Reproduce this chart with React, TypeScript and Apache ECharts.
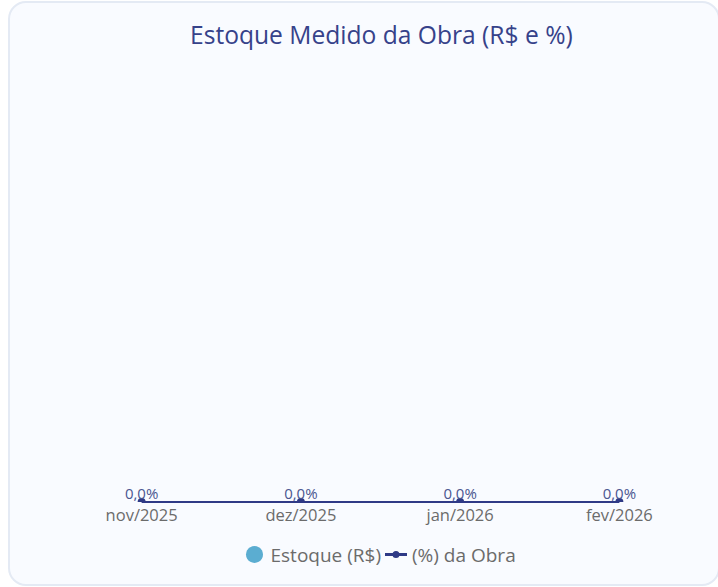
import React, { useEffect, useRef } from "react";
import * as echarts from "echarts";

const categories = ["nov/2025", "dez/2025", "jan/2026", "fev/2026"];
const estoqueValues = [0, 0, 0, 0];
const percentValues = [0, 0, 0, 0];

const FONT = "'Open Sans', 'Noto Sans', sans-serif";
const LINE_ICON =
  "path://M0,2.5 L22,2.5 L22,5.5 L0,5.5 Z M7.5,4 A3.5,3.5 0 1,1 14.5,4 A3.5,3.5 0 1,1 7.5,4 Z";
const DOME = "path://M0,4 A4,4 0 0,1 8,4 Z";

export default function App() {
  const ref = useRef<HTMLDivElement>(null);
  useEffect(() => {
    if (!ref.current) return;
    const chart = echarts.init(ref.current, undefined, { renderer: "svg" });
    chart.setOption({
      animation: false,
      textStyle: { fontFamily: FONT },
      title: {
        text: "Estoque Medido da Obra (R$ e %)",
        left: 177,
        top: 16,
        textStyle: { fontSize: 24.6, fontWeight: "normal", color: "#36428a", fontFamily: FONT },
      },
      legend: {
        left: 233,
        top: 539,
        itemGap: 4,
        itemWidth: 22,
        itemHeight: 17,
        textStyle: { fontSize: 19, color: "#6b6b6b", fontFamily: FONT },
        data: [
          { name: "Estoque (R$)", icon: "circle" },
          { name: "(%) da Obra", icon: LINE_ICON },
        ],
      },
      grid: { left: 54, width: 637, top: 70, bottom: 84 },
      xAxis: {
        type: "category",
        data: categories,
        boundaryGap: true,
        axisLine: { show: false },
        axisTick: { show: false },
        axisLabel: { color: "#6b6b6b", fontSize: 16.5, margin: 4, fontFamily: FONT },
      },
      yAxis: [
        { type: "value", show: false, min: 0, max: 1 },
        { type: "value", show: false, min: 0, max: 1 },
      ],
      series: [
        {
          name: "Estoque (R$)",
          type: "bar",
          data: estoqueValues,
          itemStyle: { color: "#5badd1" },
        },
        {
          name: "(%) da Obra",
          type: "line",
          yAxisIndex: 1,
          data: percentValues,
          symbol: DOME,
          symbolSize: [8, 4],
          symbolOffset: [0, -2],
          lineStyle: { color: "#2f3a86", width: 2 },
          itemStyle: { color: "#2f3a86" },
          label: {
            show: true,
            position: "top",
            distance: 0,
            offset: [0, 2],
            color: "#4a5690",
            fontSize: 15,
            fontFamily: FONT,
            formatter: (p: any) => Number(p.value).toFixed(1).replace(".", ",") + "%",
          },
        },
      ],
    });
    return () => chart.dispose();
  }, []);
  return (
    <div
      style={{
        position: "absolute",
        left: 8,
        top: 1,
        width: 712,
        height: 585,
        boxSizing: "border-box",
        border: "2px solid #e4eaf4",
        borderRadius: 18,
        background: "#f9fbff",
        overflow: "hidden",
      }}
    >
      <div ref={ref} style={{ position: "absolute", left: -2, top: -2, width: 712, height: 585 }} />
    </div>
  );
}
